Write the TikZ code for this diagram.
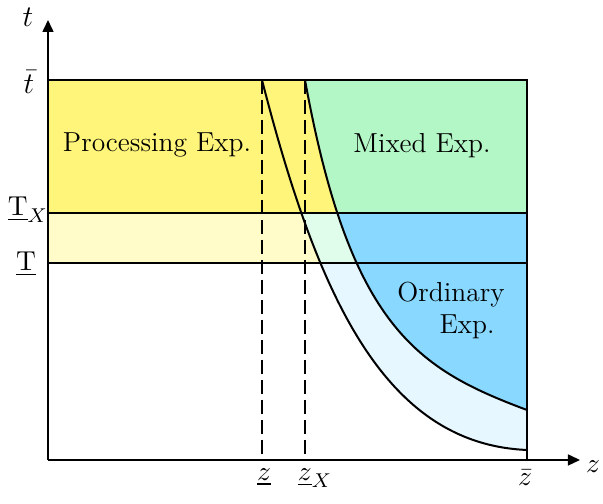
\documentclass[tikz,border=0pt]{standalone}
\usepackage{amsmath}
\usepackage{amssymb}
\usepackage{xcolor}
\usepackage{tikz}
\usetikzlibrary{arrows.meta, positioning}

\definecolor{procyellow}{RGB}{255,245,122}
\definecolor{lightyellow}{RGB}{255,252,202}
\definecolor{mixgreen}{RGB}{179,247,198}
\definecolor{palegreen}{RGB}{224,252,234}
\definecolor{ordblue}{RGB}{136,216,255}
\definecolor{paleblue}{RGB}{230,247,255}

\newcommand{\lowcurve}{(262,80) .. controls (318,298) and (385,444) .. (527,450)}
\newcommand{\highcurve}{(305,80) .. controls (350,327) and (417,369) .. (527,410)}

\tikzset{
	frame/.style={line width=0.6pt, black},
	curve/.style={line width=0.8pt, black},
	guide/.style={line width=0.6pt, dash pattern=on 5.6pt off 2.4pt},
	axis/.style={line width=0.6pt, -{Triangle[length=4.8pt, width=4.4pt]}},
	lab/.style={inner sep=0pt},
	biglab/.style={inner sep=0pt, font=\fontsize{13}{15}\selectfont}
}

\begin{document}
\begin{tikzpicture}[x=0.4pt, y=-0.4pt, font=\fontsize{11}{13}\selectfont]
			\useasboundingbox (0,0) rectangle (603,504);
			% Coordinates:
			\coordinate (O) at (48,460);
			\coordinate (xend) at (580,460);
			\coordinate (yend) at (48,20);
			\coordinate (zlowtop) at (262,80);
			\coordinate (zlowbot) at (262,460);
			\coordinate (zxtop) at (305,80);
			\coordinate (zxbot) at (305,460);
			% Regions:
			\begin{scope}
				\clip (48,80) rectangle (527,213);
				\fill[procyellow] (48,80) rectangle (527,213);
				\fill[mixgreen] \highcurve -- (527,80) -- cycle;
			\end{scope}
			\begin{scope}
				\clip (48,213) rectangle (527,263);
				\fill[lightyellow] (48,213) rectangle (527,263);
				\fill[palegreen] \lowcurve -- (527,80) -- cycle;
				\fill[ordblue] \highcurve -- (527,80) -- cycle;
			\end{scope}
			\begin{scope}
				\clip (48,263) rectangle (527,460);
				\fill[paleblue] \lowcurve -- (527,80) -- cycle;
				\fill[ordblue] \highcurve -- (527,80) -- cycle;
			\end{scope}
			% Lines and curves:
			\draw[frame] (48,80) -- (527,80) -- (527,460);
			\draw[frame] (48,213) -- (527,213);
			\draw[frame] (48,263) -- (527,263);
			\draw[curve] \lowcurve;
			\draw[curve] \highcurve;
			\draw[guide] (zlowtop) -- (zlowbot);
			\draw[guide] (zxtop) -- (zxbot);
			\draw[axis] (O) -- (xend);
			\draw[axis] (O) -- (yend);
			% Labels:
			\node[biglab](N1) at (28,17){$t$};
			\node[biglab](N2) at (29,82){$\bar{t}$};
			\node[lab](N3) at (28,210){$\underline{\mathrm{T}}_X$};
			\node[lab](N4) at (26,264){$\underline{\mathrm{T}}$};
			\node[lab](N5) at (264,477){$\underline{z}$};
			\node[lab](N6) at (315,478){$\underline{z}_X$};
			\node[lab](N7) at (525,478){$\bar{z}$};
			\node[lab](N8) at (593,467){$z$};
			\node[lab](N9) at (157,145){Processing Exp.};
			\node[lab](N10) at (422,146){Mixed Exp.};
			\node[lab](N11) at (451,295){Ordinary};
			\node[lab](N12) at (467,327){Exp.};
		\end{tikzpicture}
\end{document}
